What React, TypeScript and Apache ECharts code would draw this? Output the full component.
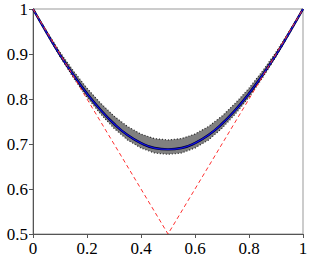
import React, { useEffect, useRef } from "react";
import * as echarts from "echarts";

const xs = [0, 0.05, 0.1, 0.15, 0.2, 0.25, 0.3, 0.35, 0.4, 0.45, 0.5, 0.55, 0.6, 0.65, 0.7, 0.75, 0.8, 0.85, 0.9, 0.95, 1];
const meanVals = [1.0, 0.948, 0.898, 0.853, 0.812, 0.776, 0.745, 0.72, 0.702, 0.691, 0.688, 0.691, 0.702, 0.72, 0.745, 0.776, 0.812, 0.853, 0.898, 0.948, 1.0];
const upperVals = [1.0, 0.951, 0.904, 0.862, 0.824, 0.791, 0.762, 0.739, 0.722, 0.712, 0.709, 0.712, 0.722, 0.739, 0.762, 0.791, 0.824, 0.862, 0.904, 0.951, 1.0];
const lowerVals = [1.0, 0.946, 0.894, 0.847, 0.804, 0.767, 0.735, 0.709, 0.691, 0.68, 0.677, 0.68, 0.691, 0.709, 0.735, 0.767, 0.804, 0.847, 0.894, 0.946, 1.0];
const vLineX = [0, 0.5, 1];
const vLineY = [1, 0.5, 1];

export default function App() {
  const ref = useRef<HTMLDivElement>(null);
  useEffect(() => {
    if (!ref.current) return;
    const chart = echarts.init(ref.current, null, { renderer: "svg" });
    const pair = (ys: number[]) => xs.map((x, i) => [x, ys[i]]);
    const font = "serif";
    chart.setOption({
      animation: false,
      textStyle: { fontFamily: font },
      grid: { left: 33, right: 8, top: 9, bottom: 25, show: true, borderColor: "#999", borderWidth: 1 },
      xAxis: {
        type: "value",
        min: 0,
        max: 1,
        interval: 0.2,
        axisLine: { lineStyle: { color: "#555", width: 1 } },
        axisTick: { show: true, length: 4, inside: false, lineStyle: { color: "#555" } },
        axisLabel: { color: "#000", fontFamily: font, fontSize: 17, margin: 6, formatter: (v: number) => String(+v.toFixed(1)) },
        splitLine: { show: false },
      },
      yAxis: {
        type: "value",
        min: 0.5,
        max: 1,
        interval: 0.1,
        axisLine: { show: true, lineStyle: { color: "#555", width: 1 } },
        axisTick: { show: true, length: 4, inside: false, lineStyle: { color: "#555" } },
        axisLabel: { color: "#000", fontFamily: font, fontSize: 17, margin: 5, formatter: (v: number) => String(+v.toFixed(1)) },
        splitLine: { show: false },
      },
      series: [
        {
          type: "custom",
          data: [0],
          z: 1,
          renderItem: (params: any, api: any) => {
            const pts: number[][] = [];
            for (let i = 0; i < xs.length; i++) pts.push(api.coord([xs[i], upperVals[i]]));
            for (let i = xs.length - 1; i >= 0; i--) pts.push(api.coord([xs[i], lowerVals[i]]));
            return {
              type: "polygon",
              shape: { points: pts },
              style: { fill: "#808080", stroke: "none" },
            };
          },
        },
        {
          type: "line",
          data: pair(upperVals),
          symbol: "none",
          lineStyle: { color: "#222", width: 1.2, type: [1, 2] },
          z: 2,
        },
        {
          type: "line",
          data: pair(lowerVals),
          symbol: "none",
          lineStyle: { color: "#222", width: 1.2, type: [1, 2] },
          z: 2,
        },
        {
          type: "line",
          data: pair(meanVals),
          symbol: "none",
          smooth: true,
          lineStyle: { color: "#000033", width: 2.4 },
          z: 3,
        },
        {
          type: "line",
          data: pair(meanVals),
          symbol: "none",
          smooth: true,
          lineStyle: { color: "#1010e0", width: 1.2 },
          z: 4,
        },
        {
          type: "line",
          data: vLineX.map((x, i) => [x, vLineY[i]]),
          symbol: "none",
          lineStyle: { color: "#ff3030", width: 1, type: [4, 3] },
          z: 5,
        },
      ],
    });
    return () => chart.dispose();
  }, []);
  return <div ref={ref} style={{ position: "absolute", left: 0, top: 0, width: 311, height: 259 }} />;
}
